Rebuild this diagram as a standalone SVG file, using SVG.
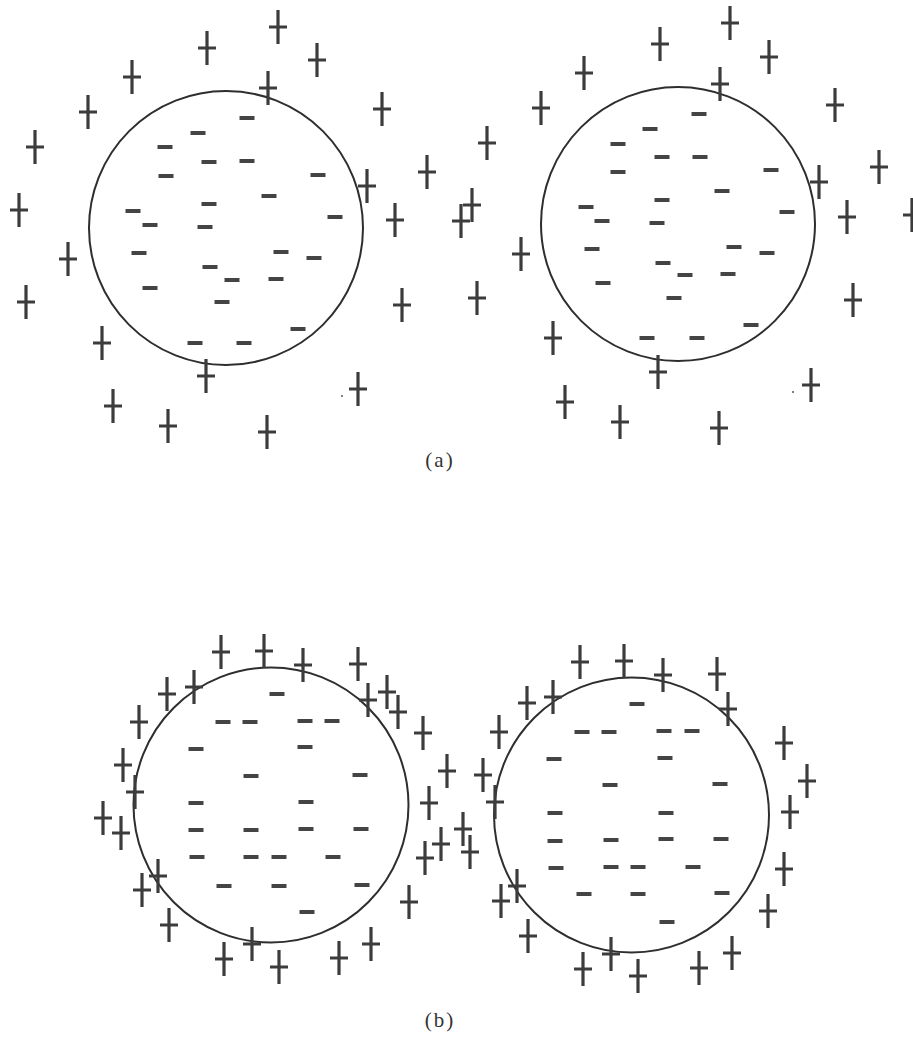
<svg xmlns="http://www.w3.org/2000/svg" xmlns:xlink="http://www.w3.org/1999/xlink" width="913" height="1038" viewBox="0 0 913 1038">
<defs>
<style>
.c{fill:none;stroke:#2e2e2e;stroke-width:2}
.pl{stroke:#3c3c3c;stroke-width:3.2;fill:none}
.mi{stroke:#444;stroke-width:4;fill:none}
.lbl{font-family:"Liberation Serif",serif;font-size:21px;fill:#333;text-anchor:middle;letter-spacing:2px}
</style>
<path id="p" class="pl" d="M0-17V17M-9 0H9"/>
<path id="m" class="mi" d="M-7.5 0H7.5"/>
</defs>
<rect width="913" height="1038" fill="#fff"/>

<g id="circles">
<circle class="c" cx="226" cy="228" r="137"/>
<circle class="c" cx="678" cy="224" r="137"/>
<circle class="c" cx="271" cy="805" r="137.5"/>
<circle class="c" cx="631.5" cy="815" r="137.5"/>
</g>

<g id="a-left-plus">
<use xlink:href="#p" x="278" y="27"/><use xlink:href="#p" x="207" y="48"/><use xlink:href="#p" x="317" y="60"/>
<use xlink:href="#p" x="132" y="77"/><use xlink:href="#p" x="268" y="88"/><use xlink:href="#p" x="88" y="112"/>
<use xlink:href="#p" x="382" y="109"/><use xlink:href="#p" x="35" y="147"/><use xlink:href="#p" x="427" y="172"/>
<use xlink:href="#p" x="367" y="186"/><use xlink:href="#p" x="19" y="210"/><use xlink:href="#p" x="395" y="220"/>
<use xlink:href="#p" x="472" y="205"/><use xlink:href="#p" x="461" y="221"/>
<use xlink:href="#p" x="68" y="259"/><use xlink:href="#p" x="26" y="302"/><use xlink:href="#p" x="402" y="305"/>
<use xlink:href="#p" x="102" y="343"/><use xlink:href="#p" x="206" y="376"/><use xlink:href="#p" x="358" y="389"/>
<use xlink:href="#p" x="113" y="406"/><use xlink:href="#p" x="168" y="426"/><use xlink:href="#p" x="267" y="432"/>
<circle cx="342" cy="396" r="1" fill="#555"/>
</g>
<g id="a-left-minus">
<use xlink:href="#m" x="247" y="118"/><use xlink:href="#m" x="198" y="133"/><use xlink:href="#m" x="165" y="147"/>
<use xlink:href="#m" x="209" y="162"/><use xlink:href="#m" x="247" y="161"/><use xlink:href="#m" x="166" y="176"/>
<use xlink:href="#m" x="318" y="175"/><use xlink:href="#m" x="269" y="196"/><use xlink:href="#m" x="209" y="204"/>
<use xlink:href="#m" x="133" y="211"/><use xlink:href="#m" x="335" y="217"/><use xlink:href="#m" x="150" y="225"/>
<use xlink:href="#m" x="205" y="227"/><use xlink:href="#m" x="139" y="253"/><use xlink:href="#m" x="281" y="252"/>
<use xlink:href="#m" x="314" y="258"/><use xlink:href="#m" x="210" y="267"/><use xlink:href="#m" x="232" y="280"/>
<use xlink:href="#m" x="276" y="279"/><use xlink:href="#m" x="150" y="288"/><use xlink:href="#m" x="222" y="302"/>
<use xlink:href="#m" x="298" y="329"/><use xlink:href="#m" x="195" y="343"/><use xlink:href="#m" x="244" y="343"/>
</g>

<g id="a-right-plus">
<use xlink:href="#p" x="730" y="23"/><use xlink:href="#p" x="660" y="44"/><use xlink:href="#p" x="769" y="57"/>
<use xlink:href="#p" x="584" y="73"/><use xlink:href="#p" x="720" y="84"/><use xlink:href="#p" x="541" y="108"/>
<use xlink:href="#p" x="835" y="105"/><use xlink:href="#p" x="487" y="143"/><use xlink:href="#p" x="879" y="167"/>
<use xlink:href="#p" x="819" y="182"/><use xlink:href="#p" x="847" y="217"/><use xlink:href="#p" x="912" y="215"/>
<use xlink:href="#p" x="521" y="254"/><use xlink:href="#p" x="477" y="298"/><use xlink:href="#p" x="853" y="300"/>
<use xlink:href="#p" x="553" y="338"/><use xlink:href="#p" x="658" y="372"/><use xlink:href="#p" x="811" y="385"/>
<use xlink:href="#p" x="565" y="402"/><use xlink:href="#p" x="620" y="422"/><use xlink:href="#p" x="719" y="428"/>
<circle cx="793" cy="392" r="1" fill="#555"/>
</g>
<g id="a-right-minus">
<use xlink:href="#m" x="699" y="114"/><use xlink:href="#m" x="650" y="129"/><use xlink:href="#m" x="618" y="144"/>
<use xlink:href="#m" x="662" y="157"/><use xlink:href="#m" x="700" y="157"/><use xlink:href="#m" x="618" y="172"/>
<use xlink:href="#m" x="771" y="170"/><use xlink:href="#m" x="722" y="191"/><use xlink:href="#m" x="662" y="200"/>
<use xlink:href="#m" x="586" y="207"/><use xlink:href="#m" x="787" y="212"/><use xlink:href="#m" x="602" y="221"/>
<use xlink:href="#m" x="657" y="223"/><use xlink:href="#m" x="592" y="249"/><use xlink:href="#m" x="734" y="247"/>
<use xlink:href="#m" x="767" y="253"/><use xlink:href="#m" x="663" y="263"/><use xlink:href="#m" x="685" y="275"/>
<use xlink:href="#m" x="728" y="274"/><use xlink:href="#m" x="603" y="283"/><use xlink:href="#m" x="674" y="298"/>
<use xlink:href="#m" x="751" y="325"/><use xlink:href="#m" x="647" y="338"/><use xlink:href="#m" x="697" y="338"/>
</g>

<g id="b-left-plus">
<use xlink:href="#p" x="221" y="652"/><use xlink:href="#p" x="264" y="651"/><use xlink:href="#p" x="303" y="665"/>
<use xlink:href="#p" x="358" y="664"/><use xlink:href="#p" x="194" y="687"/><use xlink:href="#p" x="167" y="694"/>
<use xlink:href="#p" x="387" y="692"/><use xlink:href="#p" x="368" y="700"/><use xlink:href="#p" x="398" y="712"/>
<use xlink:href="#p" x="139" y="722"/><use xlink:href="#p" x="423" y="733"/><use xlink:href="#p" x="123" y="765"/>
<use xlink:href="#p" x="447" y="771"/><use xlink:href="#p" x="135" y="792"/><use xlink:href="#p" x="429" y="803"/>
<use xlink:href="#p" x="103" y="818"/><use xlink:href="#p" x="121" y="833"/><use xlink:href="#p" x="463" y="829"/>
<use xlink:href="#p" x="441" y="844"/><use xlink:href="#p" x="425" y="858"/><use xlink:href="#p" x="158" y="876"/>
<use xlink:href="#p" x="142" y="890"/><use xlink:href="#p" x="409" y="902"/><use xlink:href="#p" x="169" y="925"/>
<use xlink:href="#p" x="252" y="944"/><use xlink:href="#p" x="371" y="944"/><use xlink:href="#p" x="224" y="959"/>
<use xlink:href="#p" x="339" y="958"/><use xlink:href="#p" x="279" y="967"/>
</g>
<g id="b-left-minus">
<use xlink:href="#m" x="277" y="694"/><use xlink:href="#m" x="223" y="722"/><use xlink:href="#m" x="250" y="722"/>
<use xlink:href="#m" x="305" y="721"/><use xlink:href="#m" x="332" y="721"/><use xlink:href="#m" x="196" y="749"/>
<use xlink:href="#m" x="305" y="747"/><use xlink:href="#m" x="251" y="776"/><use xlink:href="#m" x="360" y="775"/>
<use xlink:href="#m" x="196" y="803"/><use xlink:href="#m" x="306" y="802"/><use xlink:href="#m" x="196" y="830"/>
<use xlink:href="#m" x="251" y="830"/><use xlink:href="#m" x="306" y="829"/><use xlink:href="#m" x="361" y="829"/>
<use xlink:href="#m" x="197" y="857"/><use xlink:href="#m" x="251" y="857"/><use xlink:href="#m" x="279" y="857"/>
<use xlink:href="#m" x="333" y="857"/><use xlink:href="#m" x="224" y="886"/><use xlink:href="#m" x="279" y="886"/>
<use xlink:href="#m" x="362" y="885"/><use xlink:href="#m" x="307" y="912"/>
</g>

<g id="b-right-plus">
<use xlink:href="#p" x="580" y="662"/><use xlink:href="#p" x="624" y="661"/><use xlink:href="#p" x="663" y="675"/>
<use xlink:href="#p" x="717" y="674"/><use xlink:href="#p" x="553" y="697"/><use xlink:href="#p" x="527" y="703"/>
<use xlink:href="#p" x="728" y="709"/><use xlink:href="#p" x="499" y="732"/><use xlink:href="#p" x="784" y="743"/>
<use xlink:href="#p" x="483" y="775"/><use xlink:href="#p" x="807" y="781"/><use xlink:href="#p" x="495" y="802"/>
<use xlink:href="#p" x="790" y="812"/><use xlink:href="#p" x="470" y="852"/><use xlink:href="#p" x="784" y="869"/>
<use xlink:href="#p" x="517" y="886"/><use xlink:href="#p" x="501" y="901"/><use xlink:href="#p" x="768" y="911"/>
<use xlink:href="#p" x="528" y="936"/><use xlink:href="#p" x="611" y="954"/><use xlink:href="#p" x="732" y="953"/>
<use xlink:href="#p" x="583" y="969"/><use xlink:href="#p" x="699" y="968"/><use xlink:href="#p" x="638" y="976"/>
</g>
<g id="b-right-minus">
<use xlink:href="#m" x="637" y="704"/><use xlink:href="#m" x="582" y="732"/><use xlink:href="#m" x="609" y="732"/>
<use xlink:href="#m" x="664" y="731"/><use xlink:href="#m" x="692" y="731"/><use xlink:href="#m" x="554" y="759"/>
<use xlink:href="#m" x="665" y="758"/><use xlink:href="#m" x="610" y="785"/><use xlink:href="#m" x="720" y="784"/>
<use xlink:href="#m" x="555" y="813"/><use xlink:href="#m" x="666" y="813"/><use xlink:href="#m" x="555" y="841"/>
<use xlink:href="#m" x="611" y="840"/><use xlink:href="#m" x="666" y="839"/><use xlink:href="#m" x="721" y="839"/>
<use xlink:href="#m" x="556" y="868"/><use xlink:href="#m" x="611" y="867"/><use xlink:href="#m" x="638" y="867"/>
<use xlink:href="#m" x="693" y="867"/><use xlink:href="#m" x="584" y="894"/><use xlink:href="#m" x="638" y="894"/>
<use xlink:href="#m" x="722" y="893"/><use xlink:href="#m" x="667" y="922"/>
</g>

<g id="labels">
<text class="lbl" x="440" y="467">(a)</text>
<text class="lbl" x="440" y="1027">(b)</text>
</g>
</svg>
